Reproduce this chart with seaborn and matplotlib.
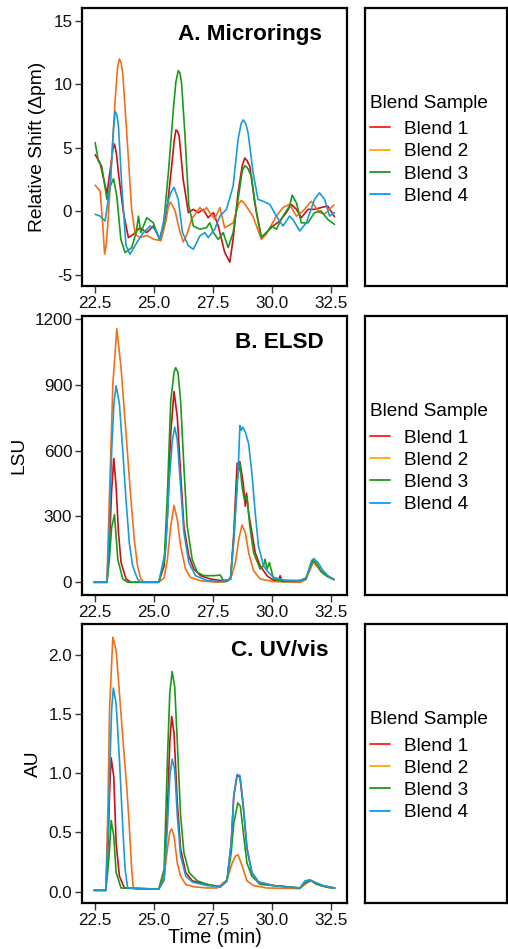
import matplotlib
matplotlib.use("Agg")
import matplotlib.pyplot as plt
import seaborn as sns
import pandas as pd
from matplotlib.lines import Line2D

# ---------------- data ----------------
blends = ["Blend 1", "Blend 2", "Blend 3", "Blend 4"]
line_colors = ["#CC1018", "#F0701A", "#1A9A1A", "#1A9BD7"]
legend_colors = ["#FF1A1A", "#FFAA00", "#1A9A1A", "#00A0FF"]
x_ticks = [22.5, 25.0, 27.5, 30.0, 32.5]
panel_titles = ["A. Microrings", "B. ELSD", "C. UV/vis"]
y_labels = ["Relative Shift (\u0394pm)", "LSU", "AU"]
x_label = "Time (min)"

# Panel A: microrings (relative shift, pm)
a_t1 = [22.5,22.71,23.0,23.16,23.25,23.32,23.4,23.49,23.7,23.91,24.12,24.4,24.69,24.97,25.25,25.54,25.75,25.86,25.93,26.0,26.07,26.24,26.46,26.67,26.88,27.09,27.3,27.52,27.73,28.0,28.22,28.36,28.57,28.75,28.86,28.95,29.07,29.28,29.56,29.77,30.06,30.34,30.62,30.83,31.05,31.26,31.54,31.82,32.1,32.38,32.67]
a_v1 = [4.46,3.8,1.4,3.55,4.9,5.3,4.6,3.0,-0.1,-2.06,-1.8,-1.28,-1.67,-1.15,-2.2,-0.1,3.55,5.6,6.4,6.3,5.9,2.5,-0.1,0.16,-0.1,0.16,-0.5,-0.1,-1.15,-3.2,-4.0,-2.2,1.46,3.6,4.2,4.0,3.55,0.68,-2.06,-1.67,-1.15,-0.76,-0.1,0.55,0.16,-0.5,0.16,0.16,0.3,0.42,-0.42]
a_t2 = [22.5,22.71,22.82,22.9,22.97,23.06,23.2,23.35,23.45,23.53,23.6,23.67,23.84,24.05,24.2,24.4,24.7,25.0,25.3,25.5,25.6,25.68,25.78,25.9,26.1,26.24,26.4,26.6,26.95,27.1,27.23,27.4,27.58,27.8,28.0,28.36,28.6,28.71,28.85,29.2,29.56,29.77,30.2,30.48,30.76,31.05,31.33,31.68,32.03,32.25,32.64]
a_v2 = [2.06,1.6,-1.0,-3.37,-2.6,-0.37,4.1,8.8,11.3,12.0,11.7,10.9,6.2,0.15,-1.8,-2.06,-1.9,-2.2,-2.3,-0.8,0.3,0.73,0.5,0.0,-1.6,-2.4,-1.8,-0.6,0.3,0.0,0.3,-0.2,-0.6,0.3,-1.3,-0.9,0.6,0.86,0.6,-0.37,-2.2,-1.8,-0.37,0.3,0.55,-0.37,0.03,0.8,-0.1,-0.2,0.5]
a_t3 = [22.5,22.64,22.78,23.0,23.14,23.28,23.42,23.59,23.77,24.05,24.24,24.34,24.44,24.69,24.97,25.23,25.4,25.61,25.82,25.93,26.03,26.1,26.17,26.31,26.48,26.67,26.95,27.23,27.37,27.52,27.73,27.94,28.15,28.36,28.57,28.75,28.86,28.98,29.14,29.35,29.56,29.84,29.99,30.2,30.48,30.76,30.87,31.05,31.26,31.54,31.82,32.1,32.38,32.67]
a_v3 = [5.4,3.94,3.55,0.94,2.0,2.56,1.2,-2.2,-3.24,-2.85,-1.67,-0.37,-1.67,-0.5,-0.9,-2.2,-1.15,3.03,8.0,10.2,11.07,10.9,10.1,6.16,0.42,-1.15,-1.4,-1.28,-0.9,-1.67,-2.2,-1.67,-2.85,-1.67,0.94,3.2,3.6,3.4,2.77,-0.1,-2.06,-1.54,-1.15,-1.4,-0.37,0.42,1.28,0.68,-0.9,-0.9,-0.1,0.03,-0.63,-1.02]
a_t4 = [22.5,22.71,22.92,23.14,23.28,23.35,23.42,23.49,23.63,23.81,23.98,24.27,24.55,24.83,25.04,25.25,25.54,25.71,25.85,26.03,26.21,26.46,26.67,26.95,27.16,27.3,27.58,27.8,28.08,28.36,28.57,28.7,28.79,28.9,29.0,29.21,29.42,29.63,29.92,30.2,30.48,30.76,30.9,31.19,31.47,31.82,32.03,32.25,32.46,32.67]
a_v4 = [-0.23,-0.37,-0.76,2.0,6.5,7.86,7.6,6.7,2.0,-2.7,-3.37,-2.45,-1.67,-1.15,-1.4,-2.2,0.42,1.46,1.9,0.94,-1.67,-2.7,-2.98,-1.93,-1.67,-2.06,-1.4,-0.37,0.16,1.98,5.64,6.9,7.2,6.9,6.16,3.03,0.94,0.8,0.55,-0.37,-1.15,-0.37,-0.63,-1.54,-0.9,0.94,1.46,0.94,-0.37,-0.1]

# Panel B: ELSD (LSU)
b_t1 = [22.45,23.0,23.1,23.2,23.29,23.39,23.49,23.6,23.81,24.02,25.2,25.43,25.57,25.71,25.85,25.99,26.13,26.27,26.48,26.69,26.98,27.4,27.82,28.1,28.25,28.39,28.53,28.65,28.79,28.88,28.93,29.02,29.16,29.3,29.51,29.8,30.08,30.3,30.36,30.42,30.5,30.92,31.2,31.45,31.6,31.75,31.9,32.1,32.35,32.65]
b_v1 = [0,0,150,420,564,436,226,90,15,0,0,75,300,677,869,752,496,256,120,60,30,15,8,10,15,226,541,549,451,346,406,316,226,135,75,30,8,10,30,10,8,3,0,15,60,100,85,50,28,12]
b_t2 = [22.45,23.0,23.1,23.18,23.25,23.42,23.6,23.81,24.02,24.16,24.3,24.44,24.58,25.2,25.43,25.57,25.71,25.85,25.99,26.13,26.34,26.55,26.98,27.68,28.1,28.3,28.46,28.6,28.74,28.88,29.02,29.23,29.51,30.08,31.2,31.45,31.6,31.77,31.91,32.12,32.33,32.61]
b_v2 = [0,0,376,647,902,1155,977,677,376,195,75,15,0,0,20,105,256,350,286,165,60,22,7,0,3,30,90,195,260,226,135,53,15,3,0,12,50,90,75,45,30,15]
b_t3 = [22.45,23.0,23.1,23.2,23.32,23.46,23.67,23.88,25.2,25.43,25.57,25.71,25.85,25.92,26.02,26.13,26.27,26.41,26.62,26.84,27.12,27.54,27.82,27.96,28.1,28.25,28.39,28.53,28.65,28.74,28.84,28.95,29.07,29.23,29.51,29.65,29.72,29.8,29.9,30.08,30.5,31.2,31.45,31.6,31.75,31.9,32.1,32.35,32.65]
b_v3 = [0,0,100,250,308,105,15,0,0,90,406,827,955,978,955,827,526,256,105,45,30,30,33,3,5,15,195,466,541,436,376,391,256,135,60,75,105,60,90,15,3,8,15,60,100,85,50,28,12]
b_t4 = [22.45,23.0,23.1,23.2,23.3,23.39,23.53,23.67,23.81,23.95,24.09,24.3,24.44,25.2,25.5,25.64,25.78,25.88,25.99,26.13,26.27,26.48,26.76,27.26,27.82,28.1,28.25,28.39,28.5,28.57,28.65,28.7,28.77,28.88,29.02,29.16,29.3,29.44,29.65,29.86,30.08,30.5,31.2,31.48,31.69,31.79,31.97,32.18,32.39,32.61]
b_v4 = [0,0,250,600,820,895,812,601,376,180,75,15,0,0,150,451,647,707,647,436,226,90,30,8,3,8,15,195,376,496,714,692,707,684,632,496,316,165,75,45,22,10,8,22,98,108,90,53,30,15]

# Panel C: UV/vis (AU)
c_t1 = [22.45,22.95,23.05,23.11,23.18,23.29,23.39,23.53,23.74,25.2,25.43,25.57,25.67,25.75,25.85,25.99,26.13,26.35,26.63,27.26,27.82,28.1,28.28,28.39,28.53,28.65,28.79,28.95,29.16,29.44,30.08,31.2,31.4,31.6,31.7,31.85,32.1,32.4,32.68]
c_v1 = [0.01,0.01,0.4,0.83,1.13,0.97,0.41,0.13,0.03,0.02,0.1,0.69,1.26,1.48,1.34,0.75,0.36,0.16,0.09,0.06,0.04,0.09,0.41,0.81,0.98,0.97,0.72,0.36,0.16,0.08,0.05,0.03,0.07,0.09,0.09,0.07,0.05,0.035,0.03]
c_t2 = [22.45,22.95,23.04,23.11,23.25,23.39,23.53,23.67,23.85,23.95,24.05,24.12,24.23,25.2,25.43,25.57,25.67,25.75,25.85,25.99,26.13,26.35,26.7,27.26,27.68,28.1,28.32,28.46,28.57,28.74,28.95,29.23,29.8,31.2,31.34,31.56,31.7,31.9,32.19,32.68]
c_v2 = [0.01,0.01,0.69,1.54,2.15,2.04,1.68,1.31,0.86,0.55,0.19,0.03,0.02,0.02,0.13,0.36,0.5,0.53,0.47,0.24,0.13,0.06,0.04,0.03,0.03,0.1,0.24,0.3,0.31,0.22,0.09,0.05,0.03,0.025,0.05,0.08,0.09,0.06,0.05,0.03]
c_t3 = [22.45,22.95,23.05,23.11,23.18,23.29,23.39,23.6,25.2,25.43,25.57,25.67,25.77,25.88,25.99,26.13,26.27,26.49,26.84,27.26,27.82,28.1,28.28,28.39,28.56,28.67,28.81,28.95,29.16,29.51,30.08,31.2,31.4,31.6,31.7,31.85,32.1,32.4,32.68]
c_v3 = [0.01,0.01,0.2,0.36,0.6,0.47,0.16,0.03,0.02,0.19,1.12,1.68,1.86,1.73,1.26,0.64,0.33,0.16,0.09,0.06,0.04,0.09,0.33,0.58,0.75,0.72,0.47,0.24,0.13,0.06,0.05,0.03,0.07,0.09,0.09,0.07,0.05,0.035,0.03]
c_t4 = [22.45,22.95,23.05,23.11,23.2,23.27,23.39,23.53,23.67,23.77,23.88,25.2,25.43,25.57,25.67,25.77,25.88,25.99,26.13,26.35,26.63,27.26,27.82,28.1,28.28,28.39,28.53,28.65,28.79,28.95,29.16,29.44,30.08,31.2,31.41,31.62,31.83,32.19,32.68]
c_v4 = [0.01,0.01,0.5,0.97,1.54,1.72,1.59,1.12,0.55,0.19,0.03,0.02,0.1,0.55,0.97,1.12,1.03,0.64,0.3,0.13,0.08,0.05,0.04,0.09,0.41,0.81,0.99,0.98,0.74,0.37,0.16,0.08,0.05,0.03,0.09,0.1,0.08,0.05,0.03]


def long_frame(ts, vs):
    rows = []
    for name, t, v in zip(blends, ts, vs):
        for ti, vi in zip(t, v):
            rows.append((ti, vi, name))
    return pd.DataFrame(rows, columns=["time", "value", "blend"])


panels = [
    long_frame([a_t1, a_t2, a_t3, a_t4], [a_v1, a_v2, a_v3, a_v4]),
    long_frame([b_t1, b_t2, b_t3, b_t4], [b_v1, b_v2, b_v3, b_v4]),
    long_frame([c_t1, c_t2, c_t3, c_t4], [c_v1, c_v2, c_v3, c_v4]),
]
y_ticks = [[-5, 0, 5, 10, 15], [0, 300, 600, 900, 1200], [0.0, 0.5, 1.0, 1.5, 2.0]]
y_ticklabels = [["-5", "0", "5", "10", "15"], ["0", "300", "600", "900", "1200"],
                ["0.0", "0.5", "1.0", "1.5", "2.0"]]
y_lims = [(-5.87, 16.0), (-58, 1213), (-0.097, 2.262)]

# ---------------- style ----------------
sns.set_theme(style="white")
plt.rcParams["font.family"] = ["Liberation Sans", "DejaVu Sans"]
plt.rcParams["text.color"] = "black"
plt.rcParams["axes.labelcolor"] = "black"
plt.rcParams["legend.labelcolor"] = "black"

W, H = 508, 949
fig = plt.figure(figsize=(W / 100, H / 100), dpi=100)

panel_px = [(8, 286), (316, 595), (624, 903)]  # top, bottom pixel
ax_left, ax_right = 82, 347
leg_left, leg_right = 365, 507
title_x = [0.905, 0.913, 0.932]

palette = dict(zip(blends, line_colors))
LEG_FS = 13.7

for i, (top, bot) in enumerate(panel_px):
    ax = fig.add_axes([ax_left / W, 1 - bot / H, (ax_right - ax_left) / W, (bot - top) / H])
    sns.lineplot(data=panels[i], x="time", y="value", hue="blend", palette=palette,
                 estimator=None, sort=False, legend=False, linewidth=1.2, ax=ax)
    ax.set_xlim(21.94, 33.2)
    ax.set_ylim(*y_lims[i])
    ax.set_xticks(x_ticks)
    ax.set_xticklabels([f"{t:.1f}" for t in x_ticks], fontsize=12.3, color="#111111")
    ax.set_yticks(y_ticks[i])
    ax.set_yticklabels(y_ticklabels[i], fontsize=12.3, color="#111111")
    ax.tick_params(axis="both", which="major", length=5, width=1.0, color="#333333",
                   pad=2, left=True, bottom=True)
    for sp in ax.spines.values():
        sp.set_visible(True)
        sp.set_color("black")
        sp.set_linewidth(1.6)
    ax.set_ylabel(y_labels[i], fontsize=13.8, labelpad=5, color="black")
    if i == 2:
        ax.set_xlabel(x_label, fontsize=14.2, labelpad=0, color="black")
    else:
        ax.set_xlabel("")
    ax.text(title_x[i], 0.905, panel_titles[i], transform=ax.transAxes,
            ha="right", va="center", fontsize=16.2, fontweight="bold", color="black")
    ax.grid(False)

    # legend box
    lax = fig.add_axes([leg_left / W, 1 - bot / H, (leg_right - leg_left) / W, (bot - top) / H])
    lax.set_xticks([])
    lax.set_yticks([])
    for sp in lax.spines.values():
        sp.set_visible(True)
        sp.set_color("black")
        sp.set_linewidth(1.6)
    handles = [Line2D([0], [0], color=c, lw=1.3) for c in legend_colors]
    leg = lax.legend(handles, blends, title="Blend Sample", loc="center left",
                     bbox_to_anchor=(0.035, 0.49), frameon=False, fontsize=LEG_FS,
                     title_fontsize=LEG_FS, handlelength=1.05, handletextpad=0.75,
                     labelspacing=0.26, borderaxespad=0.0, borderpad=0.0,
                     alignment="left")
    leg.get_title().set_color("black")
    leg._legend_box.sep = 0.26 * LEG_FS + 3.0

fig.savefig("out.png", dpi=100)
